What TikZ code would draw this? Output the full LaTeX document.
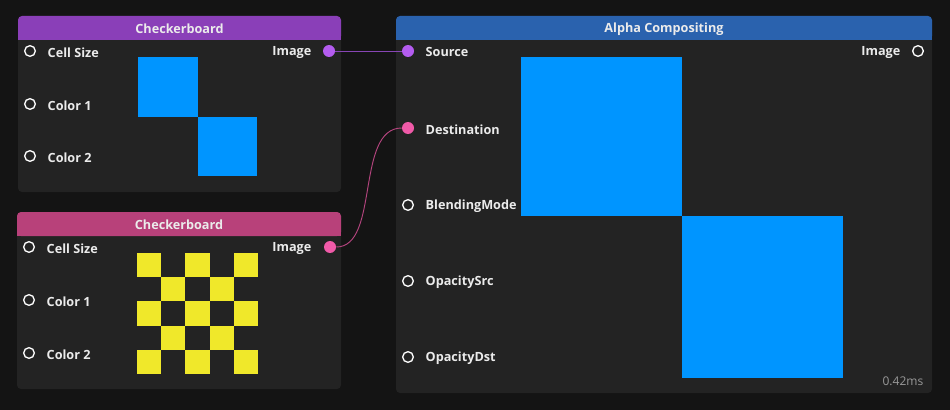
\documentclass[tikz,border=0pt]{standalone}
\usepackage{fontspec}
\setmainfont{Open Sans}
\definecolor{bgcol}{HTML}{141414}
\definecolor{bodycol}{HTML}{232323}
\definecolor{purphead}{HTML}{8A3FB8}
\definecolor{pinkhead}{HTML}{B8417A}
\definecolor{bluehead}{HTML}{2A62AE}
\definecolor{purpport}{HTML}{B45CF0}
\definecolor{pinkport}{HTML}{F05AA8}
\definecolor{cellblue}{HTML}{0095FF}
\definecolor{cellyellow}{HTML}{F0E82A}
\tikzset{
  body/.style={fill=bodycol, rounded corners=3pt},
  title/.style={text=white!92!black, font=\fontsize{9.5}{11}\selectfont\bfseries},
  label/.style={text=white!92!black, font=\fontsize{9.5}{11}\selectfont\bfseries, yshift=-1pt},
  port/.style={circle, draw=white, line width=1pt, inner sep=0pt, minimum size=8pt},
  fullport/.style={circle, inner sep=0pt, minimum size=9pt},
}
\begin{document}
\begin{tikzpicture}[x=0.75pt,y=-0.75pt]
\useasboundingbox[fill=bgcol] (0,0) rectangle (950,410);

% first checkerboard
\fill[body] (18,16) rectangle (341,192);
\fill[purphead, rounded corners=3pt] (18,16) rectangle (341,40);
\fill[purphead] (18,30) rectangle (341,40);
\node[title] (head1) at (179.5,29) {Checkerboard};
\node[port] (c1a) at (30,51) {};
\node[port] (c1b) at (30,104) {};
\node[port] (c1c) at (30,156) {};
\node[label, anchor=west] at (43,51) {Cell Size};
\node[label, anchor=west] at (43,104) {Color 1};
\node[label, anchor=west] at (43,156) {Color 2};
\node[label, anchor=east] at (316,51) {Image};
\node[fullport, fill=purpport] (out1) at (329,51) {};
\fill[cellblue] (138,57) rectangle (198,117);
\fill[cellblue] (198,117) rectangle (257,176);

% second checkerboard
\fill[body] (17,212) rectangle (341,389);
\fill[pinkhead, rounded corners=3pt] (17,212) rectangle (341,236);
\fill[pinkhead] (17,226) rectangle (341,236);
\node[title] (head2) at (179,225) {Checkerboard};
\node[port] (c2a) at (29,247) {};
\node[port] (c2b) at (29,300) {};
\node[port] (c2c) at (29,353) {};
\node[label, anchor=west] at (42,247) {Cell Size};
\node[label, anchor=west] at (42,300) {Color 1};
\node[label, anchor=west] at (42,353) {Color 2};
\node[label, anchor=east] at (316,247) {Image};
\node[fullport, fill=pinkport] (out2) at (330,247) {};
\foreach \i in {0,...,4}
  \foreach \j in {0,...,4} {
    \pgfmathparse{int(mod(\i+\j,2))}
    \ifnum\pgfmathresult=0
      \fill[cellyellow] (137+24.2*\i,253+24.2*\j) rectangle ++(24.2,24.2);
    \fi
  }

% alpha compositing
\fill[body] (396,16) rectangle (932,393);
\fill[bluehead, rounded corners=3pt] (396,16) rectangle (932,40);
\fill[bluehead] (396,30) rectangle (932,40);
\node[title] (head3) at (664,29) {Alpha Compositing};
\node[fullport, fill=purpport] (src) at (408,51) {};
\node[fullport, fill=pinkport] (dst) at (408,128) {};
\node[port] (blend) at (408,205) {};
\node[port] (opsrc) at (408,281) {};
\node[port] (opdst) at (408,357) {};
\node[label, anchor=west] at (421,51) {Source};
\node[label, anchor=west] at (421,128) {Destination};
\node[label, anchor=west] at (421,205) {BlendingMode};
\node[label, anchor=west] at (421,281) {OpacitySrc};
\node[label, anchor=west] at (421,357) {OpacityDst};
\node[label, anchor=east] at (905,51) {Image};
\node[port] (out3) at (918,51) {};
\fill[cellblue] (521,57) rectangle (682,216);
\fill[cellblue] (682,216) rectangle (843,378);
\node[text=gray!80, font=\fontsize{9}{11}\selectfont, anchor=east] at (928,381) {0.42ms};

% connectors
\draw[purpport!75!black, line width=0.7pt] (out1) -- (src);
\draw[pinkport!75!black, line width=0.7pt] (out2) .. controls (380,247) and (355,128) .. (dst);
\end{tikzpicture}
\end{document}
